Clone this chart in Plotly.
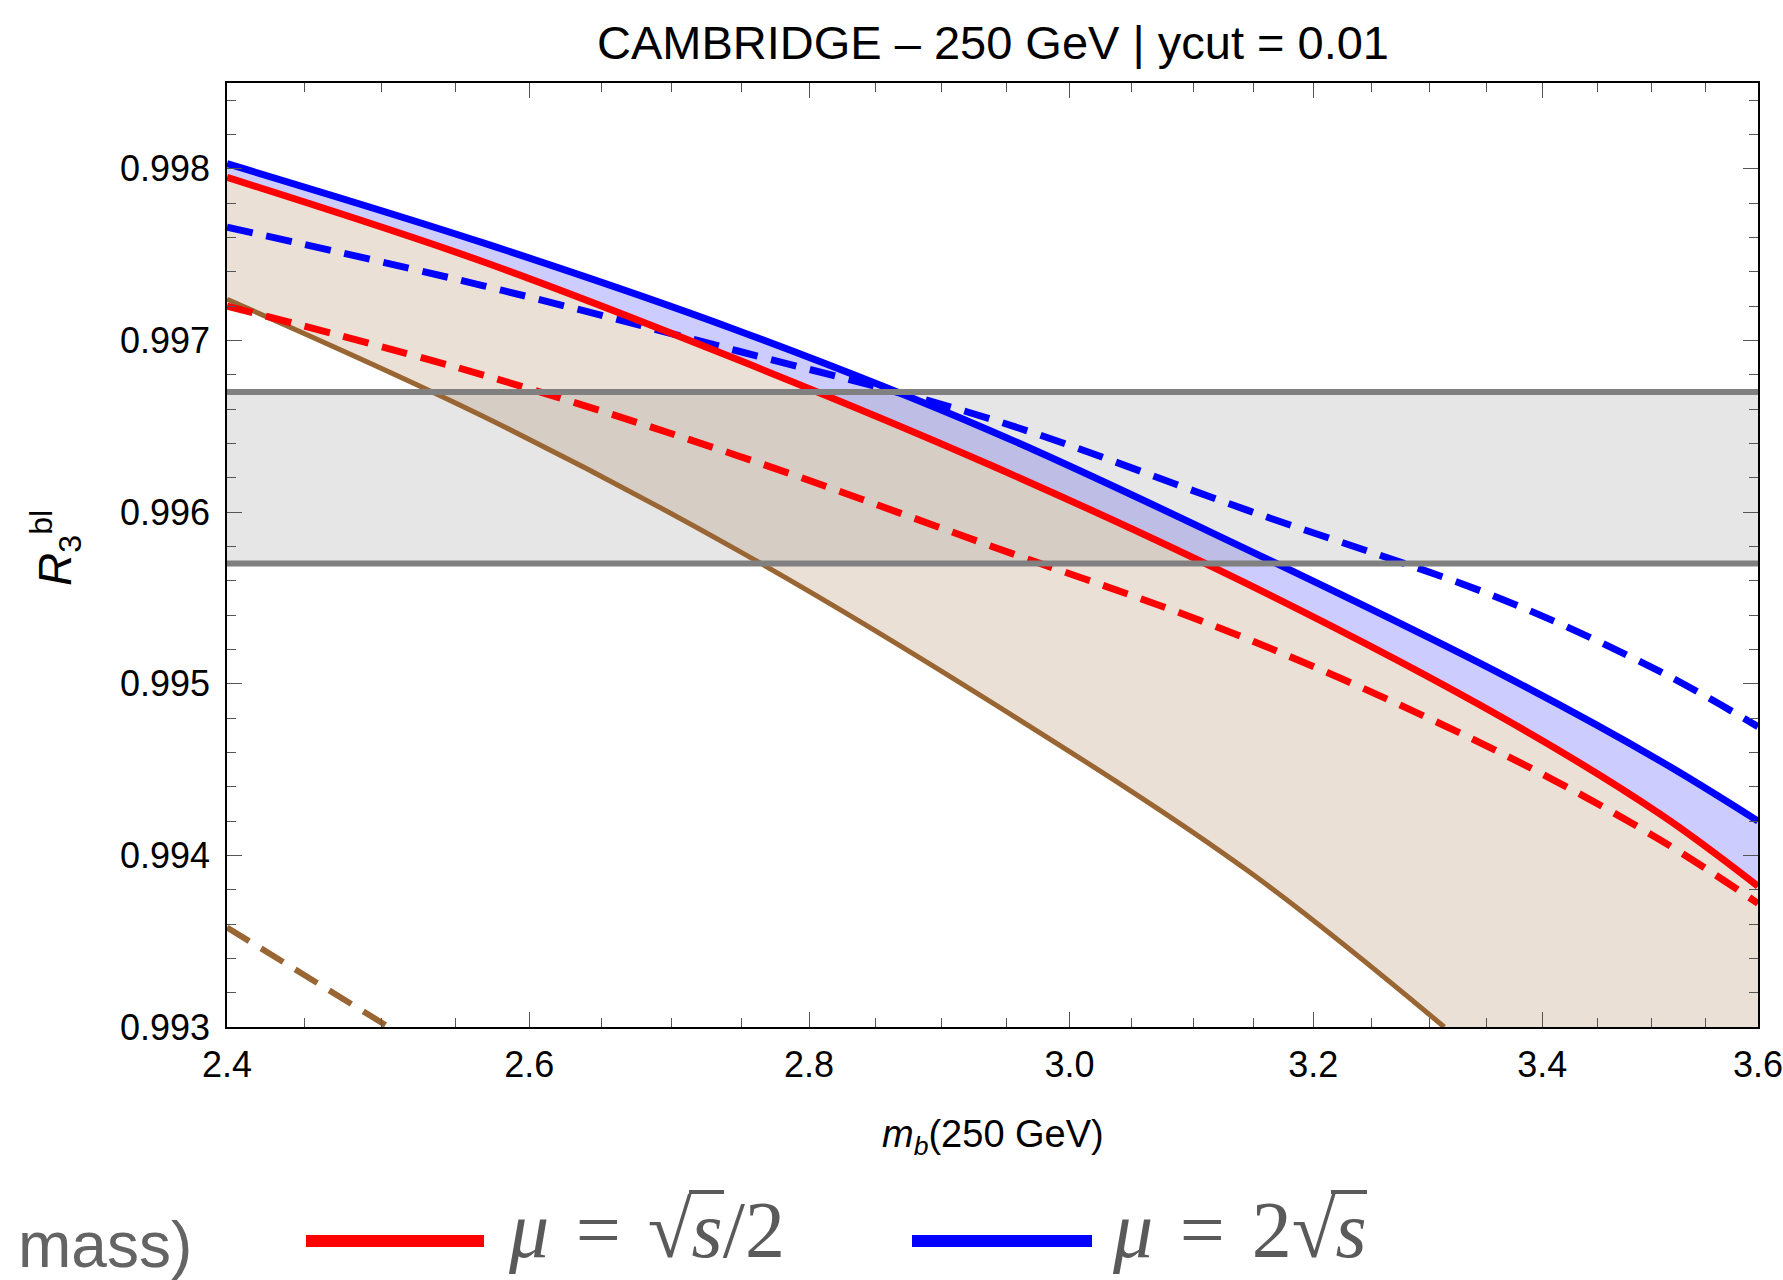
import math
import plotly.graph_objects as go

# ---------------- data ----------------
x_pts = [2.4, 2.568, 2.747, 2.939, 3.145, 3.365, 3.508, 3.6]

blue_solid  = [0.99803, 0.99757, 0.99706, 0.99647, 0.99578, 0.99505, 0.99455, 0.99420]
red_solid   = [0.99795, 0.99746, 0.99689, 0.99627, 0.99558, 0.99480, 0.99424, 0.99382]
blue_dashed = [0.99766, 0.99732, 0.99694, 0.99654, 0.99601, 0.99549, 0.99507, 0.99475]
red_dashed  = [0.99720, 0.99680, 0.99633, 0.99580, 0.99526, 0.99459, 0.99409, 0.99372]

brown_x      = [2.4, 2.568, 2.747, 2.939, 3.145, 3.313]
brown_solid  = [0.99724, 0.99656, 0.99578, 0.99489, 0.99391, 0.99300]

brown_dash_x = [2.4, 2.505]
brown_dashed = [0.99358, 0.99300]

band_lo, band_hi = 0.9957, 0.9967

x_min, x_max = 2.4, 3.6
y_min, y_max = 0.993, 0.9985

x_ticks = [2.4, 2.6, 2.8, 3.0, 3.2, 3.4, 3.6]
x_tick_text = ["2.4", "2.6", "2.8", "3.0", "3.2", "3.4", "3.6"]
x_minor = [2.45, 2.5, 2.55, 2.65, 2.7, 2.75, 2.85, 2.9, 2.95,
           3.05, 3.1, 3.15, 3.25, 3.3, 3.35, 3.45, 3.5, 3.55]
y_ticks = [0.993, 0.994, 0.995, 0.996, 0.997, 0.998]
y_tick_text = ["0.993", "0.994", "0.995", "0.996", "0.997", "0.998"]

title_text = "CAMBRIDGE – 250 GeV | ycut = 0.01"

# ---------------- styles ----------------
BLUE = "rgb(0,0,255)"
RED = "rgb(255,0,0)"
BROWN = "rgb(153,102,51)"
GRAY = "rgb(128,128,128)"
TAN_FILL = "rgba(153,102,51,0.2)"
BLUE_FILL = "rgba(0,0,255,0.2)"
GRAY_FILL = "rgba(128,128,128,0.2)"
DASH = "26px,14px"
LEG_GRAY = "rgb(90,90,90)"

fig = go.Figure()

def add(x, y, **kw):
    kw.setdefault("mode", "lines")
    kw.setdefault("showlegend", False)
    kw.setdefault("hoverinfo", "skip")
    fig.add_trace(go.Scatter(x=x, y=y, **kw))

# tan band: between red solid and brown solid (down to axis bottom)
add(brown_x + [x_max], brown_solid + [y_min], line=dict(width=0, color=BROWN))
add(x_pts, red_solid, line=dict(width=0, color=RED, shape="spline"),
    fill="tonexty", fillcolor=TAN_FILL)
# blue band: between red solid and blue solid
add(x_pts, blue_solid, line=dict(width=0, color=BLUE, shape="spline"),
    fill="tonexty", fillcolor=BLUE_FILL)
# gray experimental band
add([x_min, x_max], [band_lo, band_lo], line=dict(width=0, color=GRAY))
add([x_min, x_max], [band_hi, band_hi], line=dict(width=0, color=GRAY),
    fill="tonexty", fillcolor=GRAY_FILL)

# curves
add(brown_dash_x, brown_dashed, line=dict(width=6, color=BROWN, dash=DASH))
add(brown_x, brown_solid, line=dict(width=5, color=BROWN, shape="spline"))
add(x_pts, red_dashed, line=dict(width=7, color=RED, dash=DASH, shape="spline"))
add(x_pts, blue_dashed, line=dict(width=7, color=BLUE, dash=DASH, shape="spline"))
add(x_pts, red_solid, line=dict(width=7, color=RED, shape="spline"))
add(x_pts, blue_solid, line=dict(width=7, color=BLUE, shape="spline"))

# band edges
add([x_min, x_max], [band_lo, band_lo], line=dict(width=6, color=GRAY))
add([x_min, x_max], [band_hi, band_hi], line=dict(width=6, color=GRAY))

TICKCOL = "#555"
EPS = 1e-6
fig.update_xaxes(
    type="log", range=[math.log10(x_min) - EPS, math.log10(x_max) + EPS],
    tickmode="array", tickvals=x_ticks, ticktext=x_tick_text,
    ticks="inside", ticklen=15, tickwidth=1.3, tickcolor=TICKCOL,
    minor=dict(tickmode="array", tickvals=x_minor, ticks="inside",
               ticklen=9, tickwidth=1.3, tickcolor=TICKCOL, showgrid=False),
    showline=True, linecolor="black", linewidth=1.5, mirror="ticks",
    showgrid=False, zeroline=False, automargin=False,
    tickfont=dict(family="Liberation Sans", size=36, color="black"),
    ticklabelstandoff=5, ticklabeloverflow="allow",
)
fig.update_yaxes(
    range=[y_min, y_max],
    tickmode="array", tickvals=y_ticks, ticktext=y_tick_text,
    ticks="inside", ticklen=15, tickwidth=1.3, tickcolor=TICKCOL,
    minor=dict(dtick=0.0002, tick0=0.993, ticks="inside",
               ticklen=9, tickwidth=1.3, tickcolor=TICKCOL, showgrid=False),
    showline=True, linecolor="black", linewidth=1.5, mirror="ticks",
    showgrid=False, zeroline=False, automargin=False,
    tickfont=dict(family="Liberation Sans", size=36, color="black"),
    ticklabelstandoff=8,
)

L, R, T, B = 227, 25, 83, 253
W, H = 1783, 1280
PW, PH = W - L - R, H - T - B

def px_x(px):
    return (px - L) / PW

def px_y(py):
    return (H - B - py) / PH

LEG_SIZE = 80
annotations = [
    dict(text=title_text, x=0.5, y=px_y(43), xref="paper", yref="paper",
         xanchor="center", yanchor="middle", showarrow=False,
         font=dict(family="Liberation Sans", size=47, color="black")),
    dict(text="<i>m</i><sub><i>b</i></sub>(250 GeV)", x=0.5, y=px_y(1137),
         xref="paper", yref="paper", xanchor="center", yanchor="middle",
         showarrow=False,
         font=dict(family="Liberation Sans", size=38, color="black")),
    dict(text="<i>R</i><sub>3</sub><sup>bl</sup>", x=px_x(55), y=px_y(548),
         xref="paper", yref="paper", xanchor="center", yanchor="middle",
         textangle=-90, showarrow=False,
         font=dict(family="Liberation Sans", size=46, color="black")),
    dict(text="mass)", x=px_x(194), y=px_y(1245), xref="paper", yref="paper",
         xanchor="right", yanchor="middle", showarrow=False,
         font=dict(family="Liberation Sans", size=64, color="rgb(100,100,100)")),
    dict(text="<i>μ</i>\u2004=\u2004√<i>s</i>/2", x=px_x(506), y=px_y(1230),
         xref="paper", yref="paper", xanchor="left", yanchor="middle",
         showarrow=False,
         font=dict(family="Liberation Serif", size=LEG_SIZE, color=LEG_GRAY)),
    dict(text="<i>μ</i>\u2004=\u20042√<i>s</i>", x=px_x(1110), y=px_y(1230),
         xref="paper", yref="paper", xanchor="left", yanchor="middle",
         showarrow=False,
         font=dict(family="Liberation Serif", size=LEG_SIZE, color=LEG_GRAY)),
]

shapes = [
    dict(type="line", xref="paper", yref="paper", x0=px_x(306), x1=px_x(484),
         y0=px_y(1241), y1=px_y(1241), line=dict(color=RED, width=12)),
    dict(type="line", xref="paper", yref="paper", x0=px_x(912), x1=px_x(1092),
         y0=px_y(1241), y1=px_y(1241), line=dict(color=BLUE, width=12)),
    # radical vinculum over "s"
    dict(type="line", xref="paper", yref="paper", x0=px_x(689), x1=px_x(724),
         y0=px_y(1192), y1=px_y(1192), line=dict(color=LEG_GRAY, width=4)),
    dict(type="line", xref="paper", yref="paper", x0=px_x(1331), x1=px_x(1367),
         y0=px_y(1192), y1=px_y(1192), line=dict(color=LEG_GRAY, width=4)),
]

fig.update_layout(
    width=W, height=H, autosize=False,
    margin=dict(l=L, r=R, t=T, b=B, pad=0),
    paper_bgcolor="white", plot_bgcolor="white",
    showlegend=False,
    annotations=annotations, shapes=shapes,
)

fig.write_html("out.html")
